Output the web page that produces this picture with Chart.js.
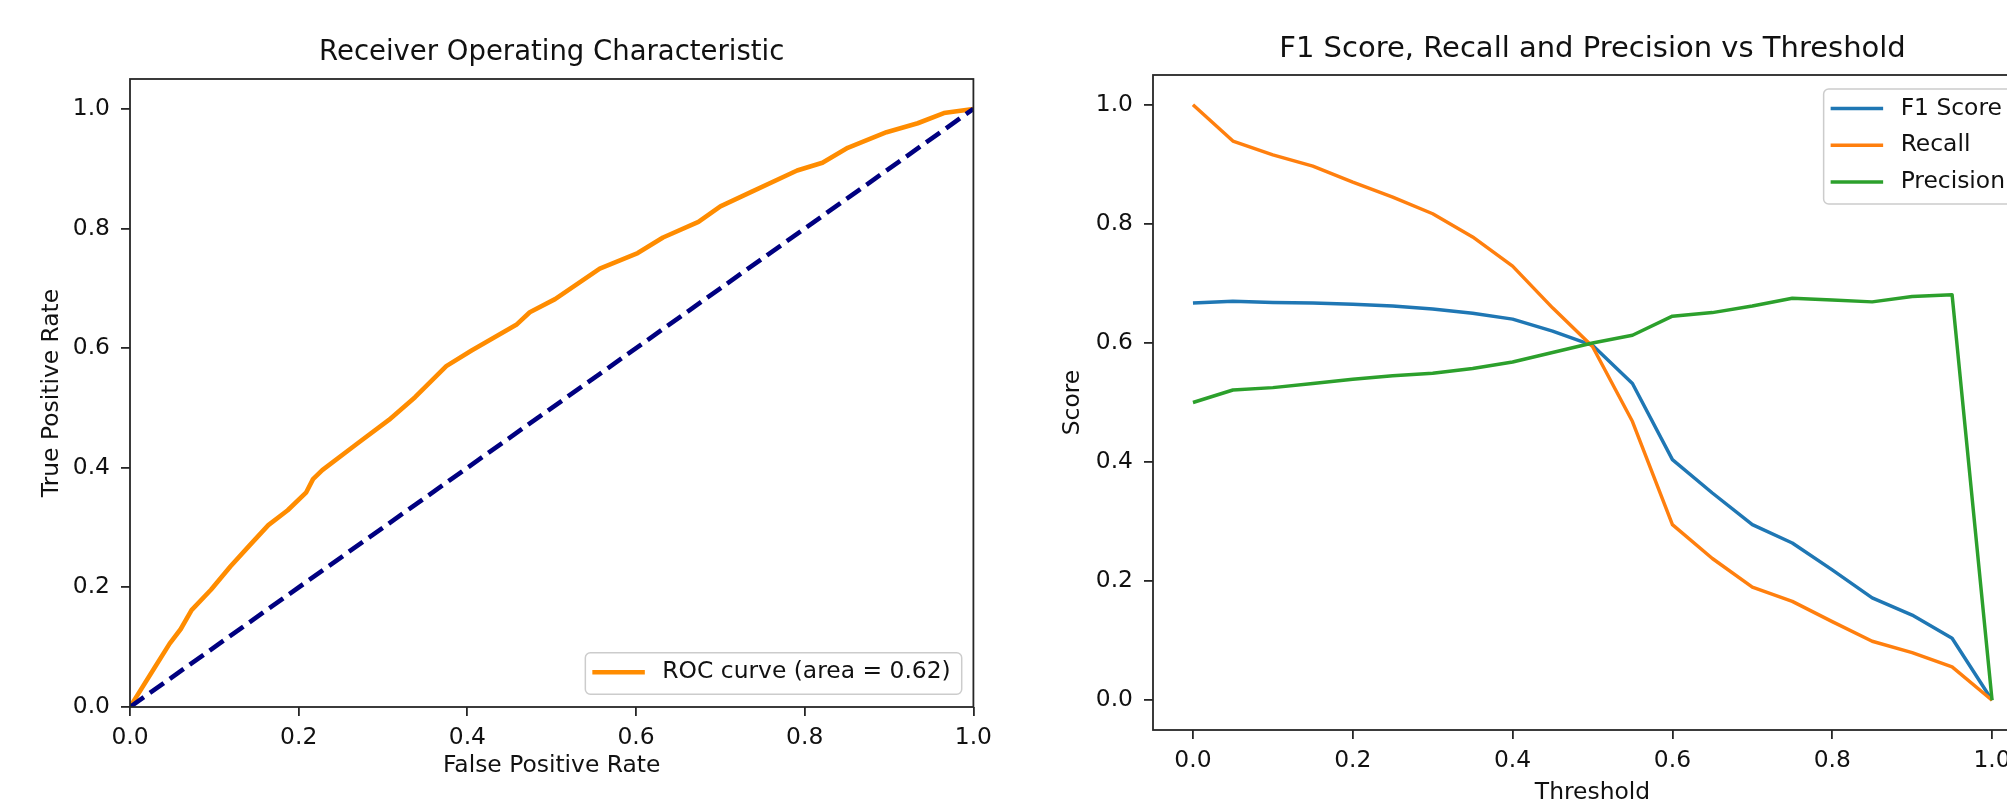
<!DOCTYPE html>
<html>
<head>
<meta charset="utf-8">
<script src="https://cdn.jsdelivr.net/npm/chart.js@4/dist/chart.umd.min.js"></script>
<style>
  html, body { margin: 0; padding: 0; background: #fff; overflow: hidden; }
  #wrap { position: relative; width: 2007px; height: 807px; overflow: hidden; }
  canvas { position: absolute; top: 0; }
  #roc { left: 0; }
  #scores { left: 1000px; }
</style>
</head>
<body>
<div id="wrap">
  <canvas id="roc" width="1000" height="807"></canvas>
  <canvas id="scores" width="1045" height="807"></canvas>
</div>
<script>
// ROC curve
var rocFpr = [0, 0.028, 0.047, 0.060, 0.073, 0.096, 0.119, 0.141, 0.164, 0.187, 0.209, 0.217, 0.228,
  0.270, 0.307, 0.338, 0.375, 0.405, 0.458, 0.474, 0.504, 0.557, 0.602, 0.632, 0.674, 0.700,
  0.738, 0.791, 0.821, 0.851, 0.897, 0.934, 0.965, 1.0];
var rocTpr = [0, 0.063, 0.106, 0.130, 0.162, 0.196, 0.235, 0.269, 0.304, 0.329, 0.359, 0.381, 0.396,
  0.441, 0.480, 0.518, 0.570, 0.596, 0.639, 0.660, 0.682, 0.733, 0.759, 0.785, 0.811, 0.837,
  0.862, 0.897, 0.910, 0.935, 0.961, 0.976, 0.993, 1.0];
var chanceX = [0, 1];
var chanceY = [0, 1];

// scores vs threshold
var thresholds = [0, 0.05, 0.1, 0.15, 0.2, 0.25, 0.3, 0.35, 0.4, 0.45, 0.5,
  0.55, 0.6, 0.65, 0.7, 0.75, 0.8, 0.85, 0.9, 0.95, 1.0];
var f1Score = [0.667, 0.670, 0.668, 0.667, 0.665, 0.662, 0.657, 0.650, 0.640, 0.620, 0.596,
  0.532, 0.404, 0.348, 0.295, 0.264, 0.219, 0.172, 0.143, 0.104, 0];
var recall = [1.0, 0.939, 0.916, 0.897, 0.870, 0.845, 0.817, 0.778, 0.729, 0.659, 0.594,
  0.468, 0.295, 0.238, 0.190, 0.166, 0.132, 0.099, 0.080, 0.056, 0];
var precision = [0.500, 0.521, 0.525, 0.532, 0.539, 0.545, 0.549, 0.557, 0.568, 0.584, 0.600,
  0.613, 0.645, 0.651, 0.662, 0.675, 0.672, 0.669, 0.678, 0.681, 0];

var tickValues = [0, 0.2, 0.4, 0.6, 0.8, 1.0];

var FONT = '"DejaVu Sans", sans-serif';
var TEXT = '#111';
var SPINE = '#262626';

function pts(xs, ys) {
  return xs.map(function (x, i) { return { x: x, y: ys[i] }; });
}

// box around the plot area, like matplotlib spines
var axesFrame = {
  id: 'axesFrame',
  afterDatasetsDraw: function (chart) {
    var a = chart.chartArea, ctx = chart.ctx;
    ctx.save();
    ctx.strokeStyle = SPINE;
    ctx.lineWidth = 1.8;
    ctx.strokeRect(a.left, a.top, a.right - a.left, a.bottom - a.top);
    ctx.restore();
  }
};

// legend drawn inside the axes with a rounded frame
var boxedLegend = {
  id: 'boxedLegend',
  afterDraw: function (chart, args, o) {
    var ctx = chart.ctx, a = chart.chartArea;
    var items = chart.data.datasets.filter(function (d) { return d.label; });
    ctx.save();
    ctx.font = '23.4px ' + FONT;
    var tw = Math.max.apply(null, items.map(function (d) { return ctx.measureText(d.label).width; }));
    var w = 7 + 52.5 + 17.5 + tw + 11;
    var h = 19.5 + (items.length - 1) * 36.7 + 22;
    var x = a.right - o.insetX - w;
    var y = o.corner === 'upper right' ? a.top + o.insetY : a.bottom - o.insetY - h;
    ctx.beginPath();
    ctx.roundRect(x, y, w, h, 5);
    ctx.fillStyle = 'rgba(255,255,255,0.8)';
    ctx.fill();
    ctx.strokeStyle = '#cccccc';
    ctx.lineWidth = 1.5;
    ctx.stroke();
    items.forEach(function (d, i) {
      var cy = y + 19.5 + i * 36.7;
      ctx.beginPath();
      ctx.moveTo(x + 7, cy);
      ctx.lineTo(x + 7 + 52.5, cy);
      ctx.setLineDash(d.borderDash || []);
      ctx.strokeStyle = d.borderColor;
      ctx.lineWidth = d.borderWidth;
      ctx.stroke();
      ctx.fillStyle = TEXT;
      ctx.textBaseline = 'middle';
      ctx.textAlign = 'left';
      ctx.fillText(d.label, x + 77, cy);
    });
    ctx.restore();
  }
};

function axis(min, max, title, titlePad, size, isY) {
  return {
    type: 'linear',
    min: min,
    max: max,
    afterBuildTicks: function (s) { s.ticks = tickValues.map(function (v) { return { value: v }; }); },
    afterFit: function (s) { if (isY) { s.width = size; } else { s.height = size; } },
    border: { display: false },
    grid: { drawOnChartArea: false, drawTicks: true, tickLength: 9, color: SPINE, lineWidth: 1.8 },
    ticks: {
      padding: isY ? 11 : 8,
      color: TEXT,
      font: { family: FONT, size: 23.4 },
      maxRotation: 0,
      callback: function (v) { return Number(v).toFixed(1); }
    },
    title: {
      display: true,
      text: title,
      color: TEXT,
      font: { family: FONT, size: 23.4 },
      padding: titlePad
    }
  };
}

Chart.defaults.font.family = FONT;

new Chart(document.getElementById('roc'), {
  type: 'line',
  data: {
    datasets: [{
      label: 'ROC curve (area = 0.62)',
      data: pts(rocFpr, rocTpr),
      borderColor: '#ff8c00',
      borderWidth: 4.6,
      order: 1
    }, {
      data: pts(chanceX, chanceY),
      borderColor: '#000080',
      borderWidth: 4.6,
      borderDash: [17, 7.4],
      order: 0
    }]
  },
  options: {
    responsive: false,
    devicePixelRatio: 1,
    animation: false,
    events: [],
    clip: 0,
    elements: {
      point: { radius: 0 },
      line: { tension: 0, borderJoinStyle: 'round', borderCapStyle: 'butt' }
    },
    layout: { padding: { left: 0, right: 26, top: 0, bottom: 0 } },
    scales: {
      x: axis(0, 1, 'False Positive Rate', { top: 0, bottom: 27 }, 100, false),
      y: axis(0, 1.05, 'True Positive Rate', { top: 38, bottom: 0 }, 130, true)
    },
    plugins: {
      legend: { display: false },
      tooltip: { enabled: false },
      title: {
        display: true,
        fullSize: false,
        text: 'Receiver Operating Characteristic',
        color: TEXT,
        font: { family: FONT, size: 27.5, weight: 'normal' },
        padding: { top: 36.8, bottom: 9.2 }
      },
      boxedLegend: { corner: 'lower right', insetX: 11.7, insetY: 12.7 }
    }
  },
  plugins: [axesFrame, boxedLegend]
});

new Chart(document.getElementById('scores'), {
  type: 'line',
  data: {
    datasets: [{
      label: 'F1 Score',
      data: pts(thresholds, f1Score),
      borderColor: '#1f77b4',
      borderWidth: 3.45,
      order: 2
    }, {
      label: 'Recall',
      data: pts(thresholds, recall),
      borderColor: '#ff7f0e',
      borderWidth: 3.45,
      order: 1
    }, {
      label: 'Precision',
      data: pts(thresholds, precision),
      borderColor: '#2ca02c',
      borderWidth: 3.45,
      order: 0
    }]
  },
  options: {
    responsive: false,
    devicePixelRatio: 1,
    animation: false,
    events: [],
    clip: 0,
    elements: {
      point: { radius: 0 },
      line: { tension: 0, borderJoinStyle: 'round', borderCapStyle: 'butt' }
    },
    layout: { padding: { left: 0, right: 13, top: 0, bottom: 0 } },
    scales: {
      x: axis(-0.05, 1.05, 'Threshold', { top: 0, bottom: 0.5 }, 77, false),
      y: axis(-0.05, 1.05, 'Score', { top: 59, bottom: 0 }, 153, true)
    },
    plugins: {
      legend: { display: false },
      tooltip: { enabled: false },
      title: {
        display: true,
        fullSize: false,
        text: 'F1 Score, Recall and Precision vs Threshold',
        color: TEXT,
        font: { family: FONT, size: 29, weight: 'normal' },
        padding: { top: 31.6, bottom: 8.6 }
      },
      boxedLegend: { corner: 'upper right', insetX: 16, insetY: 14 }
    }
  },
  plugins: [axesFrame, boxedLegend]
});
</script>
</body>
</html>
